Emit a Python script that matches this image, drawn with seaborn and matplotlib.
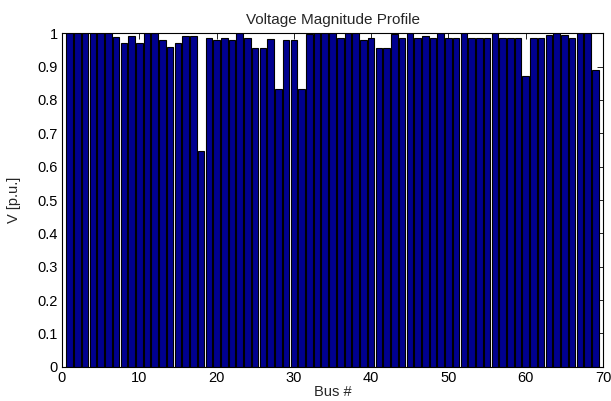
import matplotlib
matplotlib.use("Agg")
import matplotlib.pyplot as plt
import seaborn as sns
import numpy as np
import pandas as pd
from matplotlib.ticker import FuncFormatter, MultipleLocator

bus = list(range(1, 70))
voltage = [
    1.0, 1.0, 1.0, 1.0, 1.0, 1.0, 0.99, 0.97, 0.993, 0.97,
    1.0, 1.0, 0.98, 0.958, 0.97, 0.993, 0.993, 0.648, 0.987, 0.98,
    0.987, 0.98, 1.0, 0.987, 0.957, 0.957, 0.983, 0.832, 0.98, 0.98,
    0.832, 0.997, 1.0, 1.0, 1.0, 0.985, 1.0, 1.0, 0.98, 0.986,
    0.957, 0.957, 0.997, 0.985, 1.0, 0.985, 0.993, 0.985, 1.0, 0.987,
    0.985, 1.0, 0.985, 0.985, 0.985, 1.0, 0.985, 0.985, 0.985, 0.872,
    0.985, 0.985, 0.994, 1.0, 0.996, 0.985, 1.0, 1.0, 0.889,
]
title = "Voltage Magnitude Profile"
xlabel = "Bus #"
ylabel = "V [p.u.]"

df = pd.DataFrame({"bus": bus, "v": voltage})

sns.set_style("white")
plt.rcParams["font.family"] = ["Liberation Sans", "DejaVu Sans"]

fig = plt.figure(figsize=(6.11, 4.01), dpi=100)
ax = fig.add_axes([62 / 611, (401 - 366.7) / 401, 541 / 611, 333.4 / 401])

sns.barplot(data=df, x="bus", y="v", native_scale=True, width=0.85,
            color="#00008F", saturation=1, edgecolor="black", linewidth=0.8,
            ax=ax, errorbar=None)

ax.set_xlim(0, 70)
ax.set_ylim(0, 1)
ax.xaxis.set_major_locator(MultipleLocator(10))
ax.yaxis.set_major_locator(MultipleLocator(0.1))
ax.yaxis.set_major_formatter(FuncFormatter(lambda v, p: f"{v:.1f}".rstrip("0").rstrip(".") if v != 0 else "0"))
ax.tick_params(direction="in", top=True, right=True, length=4, width=0.6,
               labelsize=10.5, pad=3, colors="black")
for s in ax.spines.values():
    s.set_visible(True)
    s.set_color("black")
    s.set_linewidth(0.8)

ax.set_title(title, fontsize=11, pad=7)
ax.set_xlabel(xlabel, fontsize=10.5, labelpad=0)
ax.set_ylabel(ylabel, fontsize=10.5, labelpad=12)

fig.savefig("out.png", dpi=100, facecolor="white")
